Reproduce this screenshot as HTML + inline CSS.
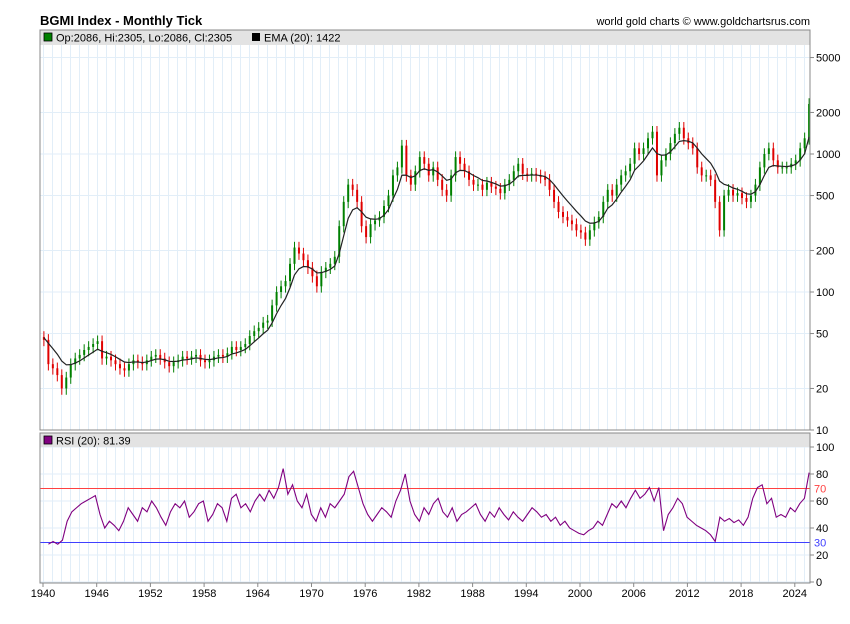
<!DOCTYPE html>
<html><head><meta charset="utf-8"><style>
body{margin:0;background:#fff;font-family:"Liberation Sans",sans-serif}
svg text{font-family:"Liberation Sans",sans-serif}
</style></head><body>
<svg id="c" width="850" height="619" xmlns="http://www.w3.org/2000/svg">
<text x="40" y="25" font-size="13" font-weight="bold">BGMI Index - Monthly Tick</text>
<text x="810" y="25" font-size="11" text-anchor="end">world gold charts © www.goldchartsrus.com</text>
<g id="grid"></g>
<rect x="40" y="30" width="770" height="15" fill="#e3e3e3"/>
<rect x="44" y="33" width="8" height="8" fill="#008000" stroke="#000" stroke-width="0.8"/>
<text x="56" y="41.5" font-size="11">Op:2086, Hi:2305, Lo:2086, Cl:2305</text>
<rect x="252" y="33" width="8" height="8" fill="#000"/>
<text x="264" y="41.5" font-size="11">EMA (20): 1422</text>
<rect x="40" y="433" width="770" height="14" fill="#e3e3e3"/>
<rect x="44" y="436" width="8" height="8" fill="#800080" stroke="#000" stroke-width="0.8"/>
<text x="56" y="444.5" font-size="11">RSI (20): 81.39</text>
<g id="marks"></g>
<rect x="40" y="30" width="770" height="400" fill="none" stroke="#888"/>
<rect x="40" y="433" width="770" height="150" fill="none" stroke="#888"/>
<g id="axes"></g>
</svg>
<script>
const priceTicks=[10,20,50,100,200,500,1000,2000,5000];
const rsiTicks=[0,20,40,60,80,100];
const yearLabels=[1940,1946,1952,1958,1964,1970,1976,1982,1988,1994,2000,2006,2012,2018,2024];
const closes=[45,30,28,25,20,24,30,33,35,38,40,42,44,33,34,32,30,28,27,30,32,31,30,32,34,35,33,31,29,31,32,34,33,34,35,32,31,32,34,35,34,36,40,38,40,42,48,52,55,60,62,80,100,110,120,160,210,190,170,150,130,110,140,150,160,180,300,450,600,550,450,300,250,310,330,350,420,500,700,800,1150,700,600,750,950,850,700,800,650,550,500,700,950,850,750,650,600,600,550,620,580,560,520,600,650,750,850,720,700,720,700,680,650,550,450,380,350,330,310,280,270,240,280,320,350,450,550,500,600,700,750,850,1100,1000,1100,1300,1450,700,900,1000,1200,1400,1550,1300,1200,1100,800,700,700,650,450,280,500,550,500,520,480,450,500,600,800,1000,1100,900,800,800,800,850,900,1100,1300,2305];
const rsiValues=[28,30,28,31,45,52,55,58,60,62,64,50,40,45,42,38,45,55,50,45,55,52,60,55,48,42,52,58,55,60,48,52,58,60,45,50,58,55,45,62,65,55,58,52,60,65,60,68,62,70,84,65,72,60,55,65,50,45,55,48,58,55,60,65,78,82,70,58,50,45,50,55,52,48,60,68,80,60,50,45,55,50,58,62,52,48,55,45,50,52,55,58,50,45,52,48,55,50,46,52,48,45,50,55,52,48,50,45,48,42,45,40,38,36,35,38,40,45,42,50,58,55,60,55,62,68,62,65,70,60,70,38,50,55,62,58,48,45,42,40,38,35,30,48,45,47,44,46,42,48,62,70,72,58,62,48,50,48,55,52,58,62,81];
const startYear=1940.1, endYear=2025.6;
const X=y=>43+(y-1940)*8.95;
const YP=v=>430-138*Math.log10(v/10);
const YR=v=>582-1.35*v;
const NS="http://www.w3.org/2000/svg";
function mk(p,t,a){const e=document.createElementNS(NS,t);for(const k in a)e.setAttribute(k,a[k]);p.appendChild(e);return e;}
const grid=document.getElementById('grid'),marks=document.getElementById('marks'),axes=document.getElementById('axes');
for(let yr=1940;yr<=2025;yr++){const x=Math.round(X(yr))+0.5;
 const l1=mk(grid,'line',{x1:x,x2:x,y1:45,y2:430,stroke:'#e2eef8'});
 
 
 const l2=mk(grid,'line',{x1:x,x2:x,y1:447,y2:583,stroke:'#e2eef8'});
 
 }
priceTicks.forEach(v=>{const y=YP(v);
 const g=mk(grid,'line',{x1:40,x2:810,y1:y,y2:y,stroke:'#e2eef8'});
 
 
 mk(axes,'line',{x1:810,x2:814,y1:y,y2:y,stroke:'#888'});
 const t=mk(axes,'text',{x:816,y:y+4,'font-size':11});t.textContent=v;
 
 });
rsiTicks.forEach(v=>{const y=YR(v);
 const g=mk(grid,'line',{x1:40,x2:810,y1:y,y2:y,stroke:'#e2eef8'});
 
 
 mk(axes,'line',{x1:810,x2:814,y1:y,y2:y,stroke:'#888'});
 const t=mk(axes,'text',{x:816,y:y+4,'font-size':11});t.textContent=v;
 
 });
const nc=closes.length, stepC=(endYear-startYear)/(nc-1);
// candles
let prev=closes[0]*1.05;
closes.forEach((c,i)=>{const x=X(startYear+i*stepC);const o=prev;
 const hi=Math.max(o,c)*1.1,lo=Math.min(o,c)*0.9;const col=c>=o?'#008000':'#e00000';
 const w=mk(marks,'line',{x1:x,x2:x,y1:YP(hi),y2:YP(lo),stroke:col,'stroke-width':1});
 
 
 const b=mk(marks,'rect',{x:x-1,y:YP(Math.max(o,c)),width:2,height:Math.max(1,YP(Math.min(o,c))-YP(Math.max(o,c))),fill:col});
 
 
 prev=c;});
// EMA
let e=closes[0]*1.05;const k=2/(7+1);let pts=[];
closes.forEach((c,i)=>{e=c*k+e*(1-k);pts.push(X(startYear+i*stepC)+','+YP(e));});
const ema=mk(marks,'polyline',{points:pts.join(' '),fill:'none',stroke:'#222','stroke-width':1.2});


[[70,'#ff4040'],[30,'#4040ff']].forEach(([v,c])=>{const y=Math.round(YR(v))+0.5;
 const l=mk(marks,'line',{x1:40,x2:810,y1:y,y2:y,stroke:c,'stroke-width':1});
 
 
 const t=mk(axes,'text',{x:814,y:y+4,'font-size':11,fill:c});t.textContent=v;
 
 });
const rStart=1940.6, rStep=(endYear-rStart)/(rsiValues.length-1);
const rp=rsiValues.map((v,i)=>X(rStart+i*rStep)+','+YR(v));
const rl=mk(marks,'polyline',{points:rp.join(' '),fill:'none',stroke:'#800080','stroke-width':1.1});


yearLabels.forEach(yr=>{const x=X(yr);
 mk(axes,'line',{x1:x,x2:x,y1:583,y2:587,stroke:'#888'});
 const t=mk(axes,'text',{x:x,y:597,'font-size':11,'text-anchor':'middle'});t.textContent=yr;
 
 });
</script>
</body></html>
